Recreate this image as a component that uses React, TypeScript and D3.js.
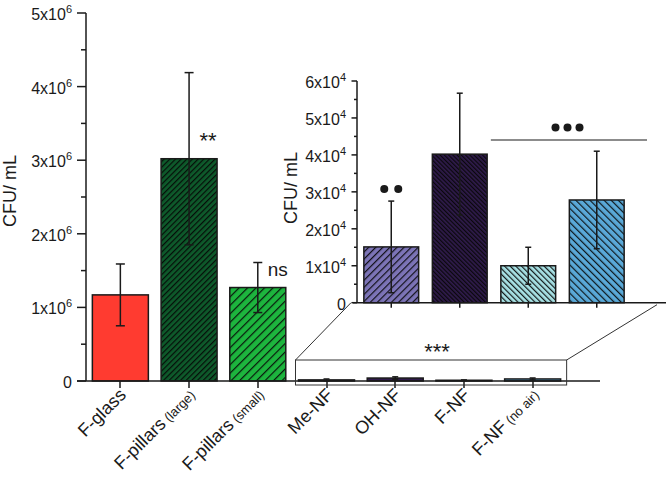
import React, { useEffect, useRef } from 'react';
import * as d3 from 'd3';

// --- data ---
const mainCategories = ['F-glass', 'F-pillars (large)', 'F-pillars (small)'];
const mainValues = [1.17e6, 3.02e6, 1.27e6];
const mainErrors = [0.42e6, 1.17e6, 0.34e6];
const mainFills = ['#ff3b30', '#0e5a2b', '#1db53e'];
const mainHatch = [0, 4, 6]; // spacing of "/" hatch, 0 = none

const nfCategories = ['Me-NF', 'OH-NF', 'F-NF', 'F-NF (no air)'];
const nfValues = [1.51e4, 4.02e4, 1.0e4, 2.78e4];
const nfErrors = [1.24e4, 1.65e4, 0.5e4, 1.32e4];
const nfFills = ['#7c74b7', '#2f1b4b', '#a8e2e5', '#5aa9d8'];
const nfHatch = [5, 3, 4, 5];
const nfHatchAngle = [45, -45, -45, -45];

const mainTicks = [0, 1e6, 2e6, 3e6, 4e6, 5e6];
const insetTicks = [0, 1e4, 2e4, 3e4, 4e4, 5e4, 6e4];

const App: React.FC = () => {
  const svgRef = useRef<SVGSVGElement | null>(null);

  useEffect(() => {
    if (!svgRef.current) return;
    const svg = d3.select(svgRef.current);
    svg.selectAll('*').remove();

    const font = 'Liberation Sans, Arial, sans-serif';
    const ink = '#1a1a1a';
    const allCats = [...mainCategories, ...nfCategories];

    // --- scales ---
    const x = d3.scaleBand<string>().domain(allCats).range([86, 567]).paddingInner(0.185).paddingOuter(0.0925);
    const y = d3.scaleLinear().domain([0, 5e6]).range([381, 13]);
    const xi = d3.scaleBand<string>().domain(nfCategories).range([357, 631]).paddingInner(0.2).paddingOuter(0.1);
    const yi = d3.scaleLinear().domain([0, 6e4]).range([302.7, 81]);

    // --- hatch patterns ---
    const defs = svg.append('defs');
    const addPattern = (id: string, fill: string, gap: number, angle: number) => {
      const p = defs.append('pattern').attr('id', id).attr('patternUnits', 'userSpaceOnUse')
        .attr('width', gap).attr('height', gap).attr('patternTransform', `rotate(${angle})`);
      p.append('rect').attr('width', gap).attr('height', gap).attr('fill', fill);
      p.append('line').attr('x1', 0.6).attr('y1', 0).attr('x2', 0.6).attr('y2', gap)
        .attr('stroke', '#050505').attr('stroke-width', 1.2).attr('stroke-opacity', 0.9);
    };
    mainFills.forEach((c, i) => { if (mainHatch[i]) addPattern(`m${i}`, c, mainHatch[i], 45); });
    nfFills.forEach((c, i) => addPattern(`n${i}`, c, nfHatch[i], nfHatchAngle[i]));
    const mainPaint = (i: number) => (mainHatch[i] ? `url(#m${i})` : mainFills[i]);

    const g = svg.append('g');

    // --- superscript tick label helper ---
    const sciLabel = (sel: d3.Selection<SVGTextElement, number, any, any>, exp: string, mant: (v: number) => number) => {
      sel.each(function (v) {
        const t = d3.select(this);
        if (v === 0) { t.text('0'); return; }
        t.append('tspan').text(`${mant(v)}x10`);
        t.append('tspan').attr('font-size', 11).attr('dy', -7).text(exp);
      });
    };

    // --- main y axis ---
    g.append('line').attr('x1', 86).attr('x2', 86).attr('y1', y(5e6)).attr('y2', y(0)).attr('stroke', ink).attr('stroke-width', 1.5);
    g.selectAll('.mtick').data(d3.range(0, 5.01e6, 0.5e6)).enter().append('line')
      .attr('x1', d => (d % 1e6 === 0 ? 77 : 81)).attr('x2', 86)
      .attr('y1', d => y(d)).attr('y2', d => y(d)).attr('stroke', ink).attr('stroke-width', 1.5);
    g.selectAll('.mlab').data(mainTicks).enter().append('text')
      .attr('x', 72).attr('y', d => y(d) + 7).attr('text-anchor', 'end')
      .attr('font-family', font).attr('font-size', 16).attr('fill', ink)
      .call(sciLabel as any, '6', (v: number) => v / 1e6);
    g.append('text').attr('transform', 'translate(16,191) rotate(-90)').attr('text-anchor', 'middle')
      .attr('font-family', font).attr('font-size', 18).attr('fill', ink).text('CFU/ mL');

    // --- main bars (the NF bars are drawn at this scale too, then zoomed in the inset) ---
    g.selectAll('.mbar').data(mainValues).enter().append('rect')
      .attr('x', (_d, i) => x(mainCategories[i])!).attr('width', x.bandwidth())
      .attr('y', d => y(d)).attr('height', d => y(0) - y(d))
      .attr('fill', (_d, i) => mainPaint(i)).attr('stroke', ink).attr('stroke-width', 1.5);
    g.selectAll('.nbarm').data(nfValues).enter().append('rect')
      .attr('x', (_d, i) => x(nfCategories[i])!).attr('width', x.bandwidth())
      .attr('y', d => y(d)).attr('height', d => y(0) - y(d))
      .attr('fill', (_d, i) => nfFills[i]).attr('stroke', ink).attr('stroke-width', 1.5);

    const errBar = (cx: number, top: number, bot: number, cap: number) => {
      g.append('line').attr('x1', cx).attr('x2', cx).attr('y1', top).attr('y2', bot).attr('stroke', ink).attr('stroke-width', 1.5);
      [top, bot].forEach(yy => g.append('line').attr('x1', cx - cap).attr('x2', cx + cap).attr('y1', yy).attr('y2', yy).attr('stroke', ink).attr('stroke-width', 1.5));
    };
    mainValues.forEach((v, i) => errBar(x(mainCategories[i])! + x.bandwidth() / 2, y(v + mainErrors[i]), y(v - mainErrors[i]), 4.5));
    nfValues.forEach((v, i) => errBar(x(nfCategories[i])! + x.bandwidth() / 2, y(v + nfErrors[i]), y(v - nfErrors[i]), 3));

    // --- main x axis ---
    g.append('line').attr('x1', 77).attr('x2', 600).attr('y1', y(0)).attr('y2', y(0)).attr('stroke', ink).attr('stroke-width', 1.5);
    allCats.forEach(c => {
      const cx = Math.round(x(c)! + x.bandwidth() / 2);
      g.append('line').attr('x1', cx).attr('x2', cx).attr('y1', y(0)).attr('y2', y(0) + 7).attr('stroke', ink).attr('stroke-width', 1.5);
      const [name, extra] = c.split(' (');
      const t = g.append('text').attr('transform', `translate(${cx + 7},${Math.round(y(0) + 15)}) rotate(-45)`)
        .attr('text-anchor', 'end').attr('font-family', font).attr('font-size', 18).attr('fill', ink);
      t.append('tspan').text(name);
      if (extra) t.append('tspan').attr('font-size', 13).text(` (${extra}`);
    });

    // --- zoom box and connectors ---
    const boxL = x('Me-NF')! - 3;
    const boxR = x('F-NF (no air)')! + x.bandwidth() + 6;
    g.append('rect').attr('x', boxL).attr('y', y(0) - 21).attr('width', boxR - boxL).attr('height', 25)
      .attr('fill', 'none').attr('stroke', '#333').attr('stroke-width', 1);
    g.append('line').attr('x1', boxL).attr('y1', y(0) - 21).attr('x2', 351).attr('y2', yi(0)).attr('stroke', '#333');
    g.append('line').attr('x1', boxR).attr('y1', y(0) - 21).attr('x2', 657).attr('y2', yi(0) + 2).attr('stroke', '#333');

    // --- inset axes ---
    g.append('line').attr('x1', 357).attr('x2', 357).attr('y1', yi(6e4)).attr('y2', yi(0)).attr('stroke', ink).attr('stroke-width', 1.5);
    g.selectAll('.itick').data(d3.range(0, 6.01e4, 0.5e4)).enter().append('line')
      .attr('x1', d => (Math.round(d) % 1e4 === 0 ? 351.5 : 354)).attr('x2', 357)
      .attr('y1', d => yi(d)).attr('y2', d => yi(d)).attr('stroke', ink).attr('stroke-width', 1.5);
    g.selectAll('.ilab').data(insetTicks).enter().append('text')
      .attr('x', 346).attr('y', d => yi(d) + 7).attr('text-anchor', 'end')
      .attr('font-family', font).attr('font-size', 16).attr('fill', ink)
      .call(sciLabel as any, '4', (v: number) => v / 1e4);
    g.append('text').attr('transform', 'translate(297,188) rotate(-90)').attr('text-anchor', 'middle')
      .attr('font-family', font).attr('font-size', 18).attr('fill', ink).text('CFU/ mL');
    g.append('line').attr('x1', 353).attr('x2', 666).attr('y1', yi(0)).attr('y2', yi(0)).attr('stroke', ink).attr('stroke-width', 1.5);
    nfCategories.forEach(c => {
      const cx = xi(c)! + xi.bandwidth() / 2;
      g.append('line').attr('x1', cx).attr('x2', cx).attr('y1', yi(0)).attr('y2', yi(0) + 5).attr('stroke', ink).attr('stroke-width', 1.5);
    });

    // --- inset bars ---
    g.selectAll('.ibar').data(nfValues).enter().append('rect')
      .attr('x', (_d, i) => xi(nfCategories[i])!).attr('width', xi.bandwidth())
      .attr('y', d => yi(d)).attr('height', d => yi(0) - yi(d))
      .attr('fill', (_d, i) => `url(#n${i})`).attr('stroke', ink).attr('stroke-width', 1.5);
    nfValues.forEach((v, i) => errBar(xi(nfCategories[i])! + xi.bandwidth() / 2, yi(v + nfErrors[i]), yi(v - nfErrors[i]), 3));

    // --- significance marks ---
    const star = (tx: number, ty: number, s: string) =>
      g.append('text').attr('x', tx).attr('y', ty).attr('text-anchor', 'middle').attr('font-family', font)
        .attr('font-size', 22).attr('fill', ink).text(s);
    star(x('F-pillars (large)')! + x.bandwidth() / 2 + 19, 148, '**');
    star(437, 359, '***');
    g.append('text').attr('x', x('F-pillars (small)')! + x.bandwidth() / 2 + 20).attr('y', 276)
      .attr('text-anchor', 'middle').attr('font-family', font).attr('font-size', 19).attr('fill', ink).text('ns');
    const meX = xi('Me-NF')! + xi.bandwidth() / 2;
    [-7, 7].forEach(dx => g.append('circle').attr('cx', meX + dx).attr('cy', yi(nfValues[0] + nfErrors[0]) - 12).attr('r', 4).attr('fill', ink));
    const midX = (xi('F-NF')! + xi('F-NF (no air)')! + xi.bandwidth()) / 2;
    [-12, 0, 12].forEach(dx => g.append('circle').attr('cx', midX + dx + 5).attr('cy', 127.5).attr('r', 4).attr('fill', ink));
    g.append('line').attr('x1', xi('F-NF')! - 10).attr('x2', 647).attr('y1', 140).attr('y2', 140).attr('stroke', ink).attr('stroke-width', 1.2);
  }, []);

  return (
    <svg ref={svgRef} width={666} height={483} style={{ position: 'absolute', left: 0, top: 0, background: '#fff' }} />
  );
};

export default App;
